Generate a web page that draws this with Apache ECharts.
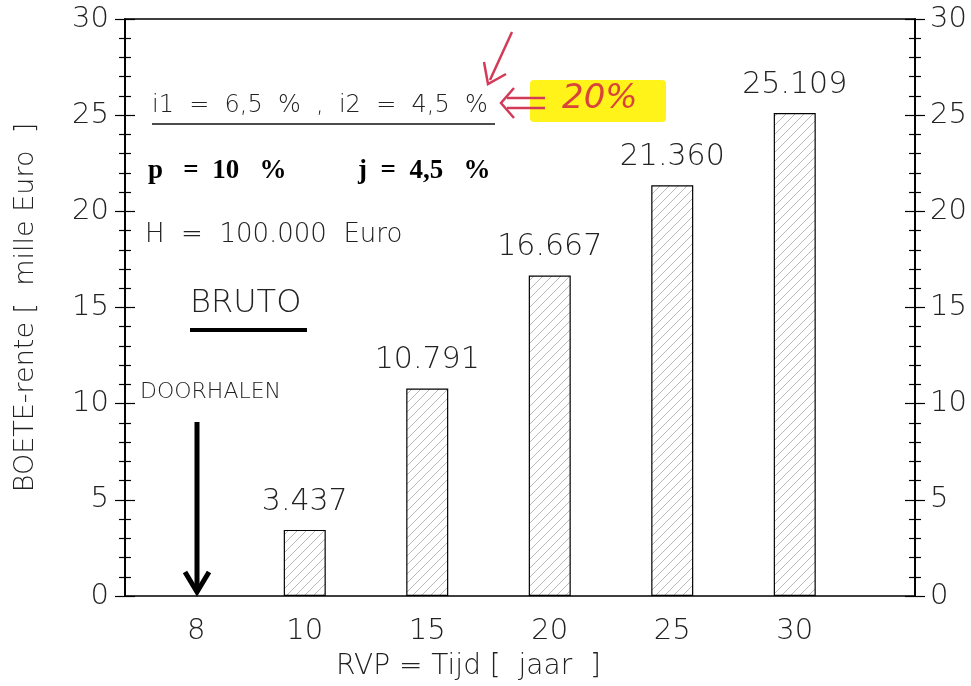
<!DOCTYPE html>
<html>
<head>
<meta charset="utf-8">
<script src="https://cdn.jsdelivr.net/npm/echarts@6/dist/echarts.min.js"></script>
<style>
html,body{margin:0;padding:0;background:#fff;}
#main{width:971px;height:686px;}
</style>
</head>
<body>
<div id="main"></div>
<script>
// ---- data ----
const categories = ['8', '10', '15', '20', '25', '30'];
const values = [null, 3.437, 10.791, 16.667, 21.360, 25.109];
const yMin = 0, yMax = 30, yInterval = 5;
const xTitle = 'RVP = Tijd [  jaar  ]';
const yTitle = 'BOETE-rente [  mille Euro  ]';
const noteRate = 'i1  =  6,5  %  ,  i2  =  4,5  %';
const noteP = 'p   =  10   %';
const noteJ = 'j  =  4,5   %';
const noteH = 'H  =  100.000  Euro';
const noteBruto = 'BRUTO';
const noteDoor = 'DOORHALEN';
const noteHand = '20%';

// ---- styling ----
const FONT = 'DejaVu Sans';
const FW = 200;
const TXT = '#222';

function hatch() {
  const c = document.createElement('canvas');
  c.width = 9; c.height = 9;
  const g = c.getContext('2d');
  g.fillStyle = '#fff';
  g.fillRect(0, 0, 9, 9);
  g.strokeStyle = '#a8a8a8';
  g.lineWidth = 0.8;
  g.beginPath();
  g.moveTo(-1, 10); g.lineTo(10, -1);
  g.stroke();
  return c;
}

const chart = echarts.init(document.getElementById('main'), null, {renderer: 'canvas'});

const yBase = {
  type: 'value', min: yMin, max: yMax, interval: yInterval, gridIndex: 0,
  splitLine: {show: false},
  axisLine: {show: true, lineStyle: {color: '#000', width: 1.5}},
  minorTick: {show: true, splitNumber: 5, length: 6, lineStyle: {color: '#000', width: 1.2}},
  axisTick: {show: true, length: 10, lineStyle: {color: '#000', width: 1.2}}
};

const option = {
  animation: false,
  backgroundColor: '#fff',
  grid: [
    {left: 125, right: 56, top: 19, bottom: 90, show: true, borderColor: '#000', borderWidth: 1.5, backgroundColor: 'transparent'},
    {left: 121, right: 115, top: 19, bottom: 90}
  ],
  xAxis: [
    {type: 'category', gridIndex: 0, data: [''], show: false},
    {
      type: 'category', gridIndex: 1, data: categories,
      axisLine: {show: false}, axisTick: {show: false},
      axisLabel: {
        margin: 21, fontSize: 29, color: TXT, fontFamily: FONT, fontWeight: FW,
        formatter: (v, i) => i === 0 ? '{s|' + v + '}' : v,
        rich: {s: {padding: [0, 0, 0, 28], fontSize: 29, color: TXT, fontFamily: FONT, fontWeight: FW}}
      },
      name: xTitle, nameLocation: 'middle', nameGap: 57,
      nameTextStyle: {fontSize: 28, color: TXT, fontFamily: FONT, fontWeight: FW, padding: [0, 40, 0, 0]}
    }
  ],
  yAxis: [
    Object.assign({}, yBase, {
      position: 'left',
      axisLabel: {margin: 16, fontSize: 29, color: TXT, fontFamily: FONT, fontWeight: FW},
      name: yTitle, nameLocation: 'middle', nameGap: 86,
      nameTextStyle: {fontSize: 27, color: TXT, fontFamily: FONT, fontWeight: FW}
    }),
    Object.assign({}, yBase, {position: 'left', axisLabel: {show: false}, axisTick: Object.assign({}, yBase.axisTick, {inside: true})}),
    Object.assign({}, yBase, {position: 'right', axisLabel: {margin: 15, fontSize: 29, color: TXT, fontFamily: FONT, fontWeight: FW}}),
    Object.assign({}, yBase, {position: 'right', axisLabel: {show: false}, axisTick: Object.assign({}, yBase.axisTick, {inside: true})}),
    {type: 'value', gridIndex: 1, min: yMin, max: yMax, interval: yInterval, show: false}
  ],
  series: [{
    type: 'bar', xAxisIndex: 1, yAxisIndex: 4,
    data: values, barWidth: 42,
    itemStyle: {color: {image: hatch(), repeat: 'repeat'}, borderColor: '#000', borderWidth: 1.2},
    label: {
      show: true, position: 'top', distance: 13,
      fontSize: 30, color: TXT, fontFamily: FONT, fontWeight: FW,
      formatter: p => p.value == null ? '' : Number(p.value).toFixed(3)
    }
  }],
  graphic: [
    {type: 'text', left: 152, top: 94, style: {text: noteRate, fontSize: 24, fontFamily: FONT, fontWeight: FW, fill: TXT}},
    {type: 'line', shape: {x1: 152, y1: 124, x2: 495, y2: 124}, style: {stroke: '#111', lineWidth: 1.5}},
    {type: 'text', left: 148, top: 158, style: {text: noteP, fontSize: 27, fontFamily: 'Liberation Serif', fontWeight: 'bold', fill: '#000'}},
    {type: 'text', left: 358, top: 158, style: {text: noteJ, fontSize: 27, fontFamily: 'Liberation Serif', fontWeight: 'bold', fill: '#000'}},
    {type: 'text', left: 145, top: 222, style: {text: noteH, fontSize: 26, fontFamily: FONT, fontWeight: FW, fill: TXT}},
    {type: 'text', left: 190, top: 288, style: {text: noteBruto, fontSize: 32, fontFamily: FONT, fontWeight: FW, fill: TXT}},
    {type: 'line', shape: {x1: 190, y1: 330, x2: 307, y2: 330}, style: {stroke: '#000', lineWidth: 4}},
    {type: 'text', left: 140, top: 381, style: {text: noteDoor, fontSize: 22, fontFamily: FONT, fontWeight: FW, fill: TXT}},
    {type: 'line', shape: {x1: 197, y1: 422, x2: 197, y2: 592}, style: {stroke: '#000', lineWidth: 5}},
    {type: 'polyline', shape: {points: [[185, 572], [197, 592], [209, 572]]}, style: {stroke: '#000', lineWidth: 5, fill: null}},
    // handwritten additions
    {type: 'rect', shape: {x: 530, y: 80, width: 136, height: 42, r: 4}, style: {fill: 'rgba(255,242,0,0.9)'}},
    {type: 'text', left: 562, top: 82, style: {text: noteHand, fontSize: 34, fontStyle: 'italic', fontFamily: 'DejaVu Sans', fontWeight: FW, fill: '#d8443a'}},
    {type: 'line', shape: {x1: 507, y1: 98, x2: 545, y2: 98}, style: {stroke: '#d23a58', lineWidth: 2.5}},
    {type: 'line', shape: {x1: 507, y1: 108, x2: 545, y2: 108}, style: {stroke: '#d23a58', lineWidth: 2.5}},
    {type: 'polyline', shape: {points: [[514, 88], [501, 103], [514, 118]]}, style: {stroke: '#d23a58', lineWidth: 2.5, fill: null}},
    {type: 'polyline', shape: {points: [[512, 32], [490, 80]]}, style: {stroke: '#d23a58', lineWidth: 2.5, fill: null}},
    {type: 'polyline', shape: {points: [[484, 62], [488, 84], [506, 74]]}, style: {stroke: '#d23a58', lineWidth: 2.5, fill: null}}
  ]
};
chart.setOption(option);
</script>
</body>
</html>
